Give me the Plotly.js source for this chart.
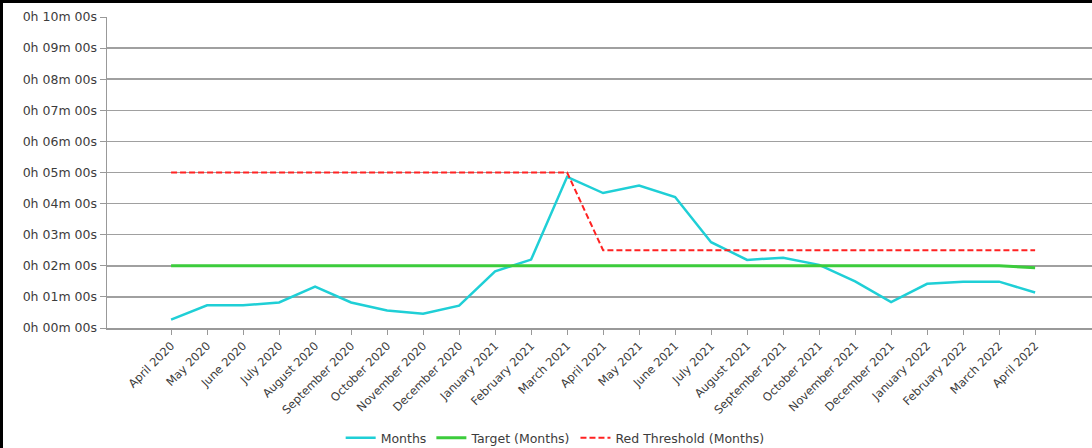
<!DOCTYPE html>
<html>
<head>
<meta charset="utf-8">
<script src="https://cdn.plot.ly/plotly-3.0.1.min.js"></script>
<style>
html,body{margin:0;padding:0;background:#fff;}
#wrap{width:1092px;height:448px;box-sizing:border-box;border-left:3px solid #000;border-top:3px solid #000;overflow:hidden;}
#chart{width:1089px;height:470px;}
</style>
</head>
<body>
<div id="wrap"><div id="chart"></div></div>
<script>
const categories = ["April 2020","May 2020","June 2020","July 2020","August 2020","September 2020","October 2020","November 2020","December 2020","January 2021","February 2021","March 2021","April 2021","May 2021","June 2021","July 2021","August 2021","September 2021","October 2021","November 2021","December 2021","January 2022","February 2022","March 2022","April 2022"];
// values in minutes
const months = [0.27,0.73,0.73,0.82,1.33,0.82,0.56,0.46,0.72,1.82,2.2,4.86,4.34,4.58,4.21,2.76,2.19,2.26,2.03,1.5,0.83,1.42,1.49,1.49,1.14];
const target = [2,2,2,2,2,2,2,2,2,2,2,2,2,2,2,2,2,2,2,2,2,2,2,2,1.94];
const redThreshold = [5,5,5,5,5,5,5,5,5,5,5,5,2.5,2.5,2.5,2.5,2.5,2.5,2.5,2.5,2.5,2.5,2.5,2.5,2.5];
const yTickVals = [0,1,2,3,4,5,6,7,8,9,10];
const yTickText = ["0h 00m 00s","0h 01m 00s","0h 02m 00s","0h 03m 00s","0h 04m 00s","0h 05m 00s","0h 06m 00s","0h 07m 00s","0h 08m 00s","0h 09m 00s","0h 10m 00s"];

const fam = "DejaVu Sans, Verdana, sans-serif";

const traces = [
  {x: categories, y: months, name: "Months", type: "scatter", mode: "lines",
   line: {color: "#1fcfd6", width: 2.5}},
  {x: categories, y: target, name: "Target (Months)", type: "scatter", mode: "lines",
   line: {color: "#3ccc3c", width: 3}},
  {x: categories, y: redThreshold, name: "Red Threshold (Months)", type: "scatter", mode: "lines",
   line: {color: "#ff2222", width: 2, dash: "6px,3px"}}
];

// plot area: 311px tall, from y=14 (chart coords) to y=325
const layout = {
  width: 1089, height: 470,
  margin: {l: 104, r: 0, t: 14, b: 145},
  paper_bgcolor: "#fff", plot_bgcolor: "#fff",
  font: {family: fam, size: 12, color: "#3c3c3c"},
  showlegend: true,
  legend: {orientation: "h", x: 0.455, xanchor: "center", y: -0.354, yanchor: "middle",
           font: {family: fam, size: 12.5, color: "#3c3c3c"}, itemwidth: 30, tracegroupgap: 0},
  xaxis: {type: "category", range: [-1.78, 25.58], showgrid: false, zeroline: false, automargin: false,
          showline: true, linecolor: "#999", linewidth: 1.5,
          ticks: "outside", ticklen: 5, tickcolor: "#999", tickangle: -45,
          tickfont: {family: fam, size: 11.5, color: "#3c3c3c"}, fixedrange: true},
  yaxis: {range: [0, 10], tickvals: yTickVals, ticktext: yTickText, automargin: false,
          showgrid: true, gridcolor: "#a0a0a0", gridwidth: 1.5, zeroline: false,
          showline: true, linecolor: "#999", linewidth: 1.5,
          ticks: "outside", ticklen: 6, tickcolor: "#999",
          tickfont: {family: fam, size: 12.5, color: "#3c3c3c"}, fixedrange: true}
};

Plotly.newPlot("chart", traces, layout, {displayModeBar: false, staticPlot: true});
</script>
</body>
</html>
